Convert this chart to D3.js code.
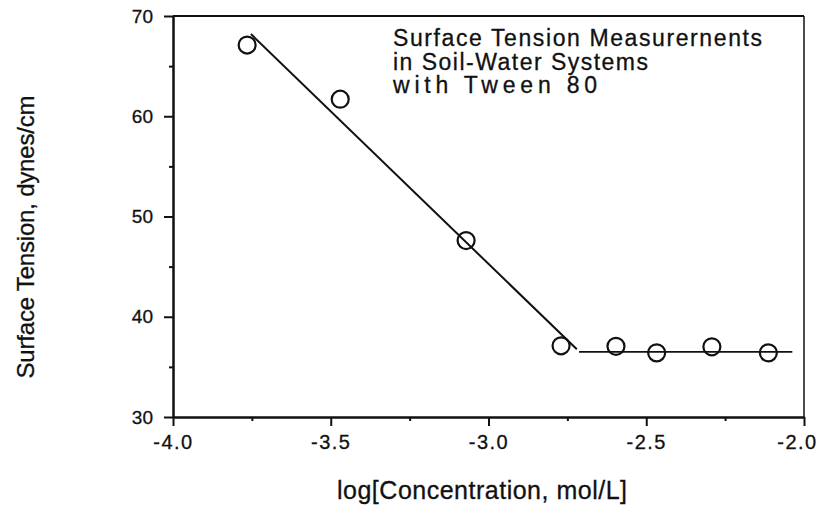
<!DOCTYPE html>
<html>
<head>
<meta charset="utf-8">
<script src="https://cdn.jsdelivr.net/npm/d3@7"></script>
<style>
  body { margin: 0; background: #fff; }
  text { font-family: "Liberation Sans", Arial, sans-serif; fill: #111; stroke: #111; stroke-width: 0.3px; }
  .axis path, .axis line { stroke: #111; stroke-width: 2; }
</style>
</head>
<body>
<div id="chart"></div>
<script>
// data
var logConc = [-3.765, -3.47, -3.071, -2.770, -2.596, -2.467, -2.292, -2.113];
var tension = [67.1, 61.7, 47.6, 37.1, 37.05, 36.4, 37.0, 36.4];

// two fitted segments
var slopeX = [-3.753, -2.72],  slopeY = [68.2, 36.75];
var flatX = [-2.713, -2.037],  flatY = [36.5, 36.5];

var xTicks = [-4.0, -3.5, -3.0, -2.5, -2.0],
    xTickLabels = ["-4.0", "-3.5", "-3.0", "-2.5", "-2.0"],
    xMinor = [-3.75, -3.25, -2.75, -2.25];
var yTicks = [30, 40, 50, 60, 70],
    yMinor = [35, 45, 55, 65];

var titleLines = ["Surface Tension Measurernents", "in Soil-Water Systems", "with Tween 80"];
var titleWidths = [369, 255, 204];

var margin = { top: 16, right: 19, bottom: 91, left: 173 },
    width = 823 - margin.left - margin.right,
    height = 508 - margin.top - margin.bottom;

var x = d3.scaleLinear().domain([-4, -2]).range([0, width]);
var y = d3.scaleLinear().domain([30, 70]).range([height, 0]);

var svg = d3.select("#chart").append("svg")
    .attr("width", 823)
    .attr("height", 508)
  .append("g")
    .attr("transform", "translate(" + margin.left + "," + margin.top + ")");

// frame: top and right sides without ticks
svg.append("line")
    .attr("x1", 0).attr("x2", width).attr("y1", 0).attr("y2", 0)
    .attr("stroke", "#111").attr("stroke-width", 2);
svg.append("line")
    .attr("x1", width).attr("x2", width).attr("y1", 0).attr("y2", height)
    .attr("stroke", "#111").attr("stroke-width", 1.5);

// minor ticks
svg.append("g")
    .attr("class", "axis")
    .attr("transform", "translate(0," + height + ")")
    .call(d3.axisBottom(x).tickValues(xMinor).tickSize(4).tickSizeOuter(0).tickFormat(""));
svg.append("g")
    .attr("class", "axis")
    .call(d3.axisLeft(y).tickValues(yMinor).tickSize(4).tickSizeOuter(0).tickFormat(""));

var xAxis = svg.append("g")
    .attr("class", "axis")
    .attr("transform", "translate(0," + height + ")")
    .call(d3.axisBottom(x).tickValues(xTicks).tickSize(9).tickSizeOuter(0)
      .tickFormat(function(d, i) { return xTickLabels[i]; }));
xAxis.selectAll("text")
    .attr("y", 18)
    .attr("dx", function(d, i) { return i === xTicks.length - 1 ? -7 : 0; })
    .style("font-size", "20px")
    .style("letter-spacing", "1.5px")
    .attr("fill", "#111");

var yAxis = svg.append("g")
    .attr("class", "axis")
    .call(d3.axisLeft(y).tickValues(yTicks).tickSize(9).tickSizeOuter(0));
yAxis.selectAll("text")
    .attr("x", -20)
    .style("font-size", "19px")
    .attr("fill", "#111");
svg.selectAll(".axis .domain").attr("stroke-width", 2);

// axis titles
svg.append("text")
    .attr("x", 482 - margin.left)
    .attr("y", 499 - margin.top)
    .attr("text-anchor", "middle")
    .attr("textLength", 290)
    .style("font-size", "25px")
    .text("log[Concentration, mol/L]");

svg.append("text")
    .attr("transform", "translate(" + (34 - margin.left) + "," + (237 - margin.top) + ") rotate(-90)")
    .attr("text-anchor", "middle")
    .attr("textLength", 283)
    .style("font-size", "24px")
    .text("Surface Tension, dynes/cm");

// in-plot title
svg.append("g")
  .selectAll("text")
    .data(titleLines)
  .enter().append("text")
    .attr("x", 393 - margin.left)
    .attr("y", function(d, i) { return 46 - margin.top + i * 23.5; })
    .attr("textLength", function(d, i) { return titleWidths[i]; })
    .style("font-size", "23px")
    .text(function(d) { return d; });

// fitted lines
var line = d3.line()
    .x(function(d) { return x(d[0]); })
    .y(function(d) { return y(d[1]); });

svg.append("path")
    .datum(d3.zip(slopeX, slopeY))
    .attr("d", line)
    .attr("fill", "none")
    .attr("stroke", "#111")
    .attr("stroke-width", 2);

svg.append("path")
    .datum(d3.zip(flatX, flatY))
    .attr("d", line)
    .attr("fill", "none")
    .attr("stroke", "#111")
    .attr("stroke-width", 1.6);

// measurements
svg.append("g")
  .selectAll("circle")
    .data(d3.zip(logConc, tension))
  .enter().append("circle")
    .attr("cx", function(d) { return x(d[0]); })
    .attr("cy", function(d) { return y(d[1]); })
    .attr("r", 8.5)
    .attr("fill", "none")
    .attr("stroke", "#111")
    .attr("stroke-width", 2.2);
</script>
</body>
</html>
